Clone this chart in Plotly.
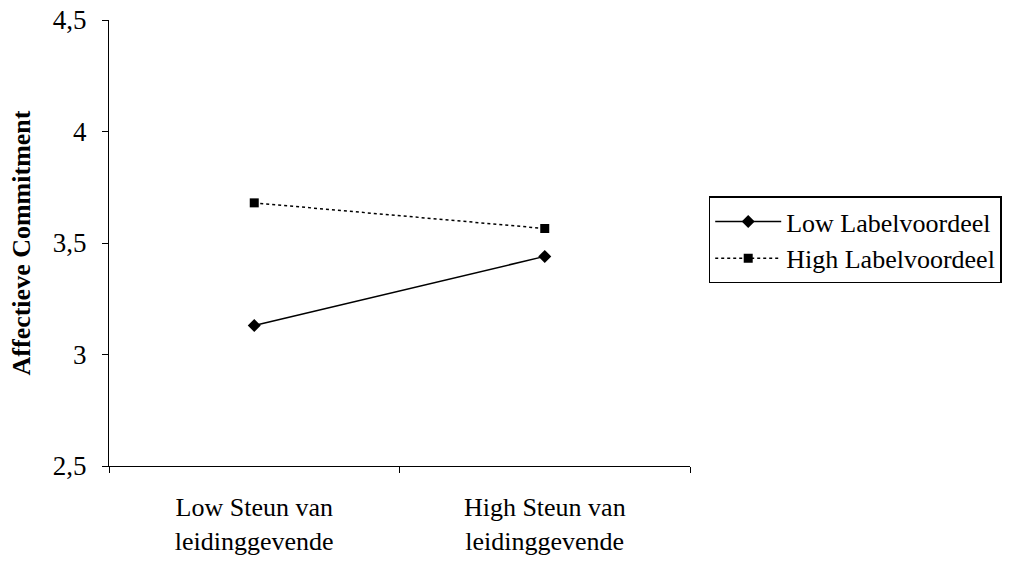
import plotly.graph_objects as go

categories = ["Low Steun van<br>leidinggevende", "High Steun van<br>leidinggevende"]
low_label = [3.13, 3.44]
high_label = [3.68, 3.565]
series_names = ["Low Labelvoordeel", "High Labelvoordeel"]
y_tickvals = [2.5, 3, 3.5, 4, 4.5]
y_ticktext = ["2,5", "3", "3,5", "4", "4,5"]

FONT = "Liberation Serif"

fig = go.Figure()
fig.add_trace(go.Scatter(
    x=categories, y=low_label, name=series_names[0], mode="lines+markers",
    line=dict(color="black", width=1.5),
    marker=dict(symbol="diamond", size=10, color="black"),
))
fig.add_trace(go.Scatter(
    x=categories, y=high_label, name=series_names[1], mode="lines+markers",
    line=dict(color="black", width=1.5, dash="3px,3px"),
    marker=dict(symbol="square", size=9, color="black"),
))

fig.update_layout(
    width=1011, height=563,
    margin=dict(l=109, r=321, t=20, b=97),
    paper_bgcolor="white", plot_bgcolor="white",
    font=dict(family=FONT, color="black", size=24),
    showlegend=True,
    legend=dict(
        xref="container", yref="container",
        x=0.701, y=0.651, xanchor="left", yanchor="top",
        bordercolor="black", borderwidth=1.5,
        font=dict(family=FONT, size=26, color="black"),
        tracegroupgap=0, itemwidth=66,
    ),
    xaxis=dict(
        type="category", range=[-0.5, 1.5], automargin=False,
        showline=True, linecolor="black", linewidth=1.2,
        ticks="outside", ticklen=6, tickcolor="black", tickwidth=1.2,
        tickson="boundaries", showgrid=False, zeroline=False,
        tickfont=dict(family=FONT, size=26),
        ticklabelstandoff=18,
    ),
    yaxis=dict(
        range=[2.5, 4.5], tickvals=y_tickvals, ticktext=y_ticktext, automargin=False,
        showline=True, linecolor="black", linewidth=1.2,
        ticks="outside", ticklen=6, tickcolor="black", tickwidth=1.2,
        showgrid=False, zeroline=False,
        tickfont=dict(family=FONT, size=27),
        ticklabelstandoff=10,
        title=dict(text="<b>Affectieve Commitment</b>", font=dict(family=FONT, size=26), standoff=14),
    ),
)

fig.write_html("out.html")
